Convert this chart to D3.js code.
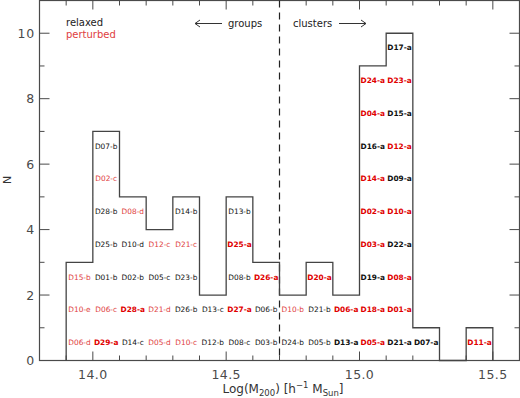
<!DOCTYPE html>
<html>
<head>
<meta charset="utf-8">
<script src="https://cdn.jsdelivr.net/npm/d3@7"></script>
<style>
  body { margin: 0; background: #fff; }
  svg { display: block; font-family: "DejaVu Sans", sans-serif; }
</style>
</head>
<body>
<svg id="chart" width="520" height="398"></svg>
<script>
// ---- data ----
const binStarts = [13.9, 14.0, 14.1, 14.2, 14.3, 14.4, 14.5, 14.6, 14.7, 14.8, 14.9, 15.0, 15.1, 15.2, 15.3, 15.4];
const binWidth = 0.1;
const counts = [3, 7, 5, 4, 5, 2, 5, 3, 2, 3, 2, 9, 10, 1, 0, 1];
// labels per bin, from bottom to top
const binLabels = [
  ["D06-d", "D10-e", "D15-b"],
  ["D29-a", "D06-c", "D01-b", "D25-b", "D28-b", "D02-c", "D07-b"],
  ["D14-c", "D28-a", "D02-b", "D10-d", "D08-d"],
  ["D05-d", "D21-d", "D05-c", "D12-c"],
  ["D10-c", "D26-b", "D23-b", "D21-c", "D14-b"],
  ["D12-b", "D13-c"],
  ["D08-c", "D27-a", "D08-b", "D25-a", "D13-b"],
  ["D03-b", "D06-b", "D26-a"],
  ["D24-b", "D10-b"],
  ["D05-b", "D21-b", "D20-a"],
  ["D13-a", "D06-a"],
  ["D05-a", "D18-a", "D19-a", "D03-a", "D02-a", "D14-a", "D16-a", "D04-a", "D24-a"],
  ["D21-a", "D01-a", "D08-a", "D22-a", "D10-a", "D09-a", "D12-a", "D15-a", "D23-a", "D17-a"],
  ["D07-a"],
  [],
  ["D11-a"]
];
const perturbed = ["D15-b", "D10-e", "D06-d", "D29-a", "D06-c", "D02-c", "D28-a", "D08-d",
  "D05-d", "D21-d", "D12-c", "D10-c", "D21-c", "D27-a", "D25-a", "D26-a", "D10-b", "D20-a",
  "D06-a", "D05-a", "D18-a", "D03-a", "D02-a", "D14-a", "D04-a", "D24-a", "D01-a", "D08-a",
  "D10-a", "D12-a", "D23-a", "D11-a"];
const xTicks = [14.0, 14.5, 15.0, 15.5];
const yTicks = [0, 2, 4, 6, 8, 10];
const groupDivide = 14.7;

// ---- layout ----
const svg = d3.select("#chart");
const L = 39.5, R = 519.5, T = 0.5, B = 360.5;
const x = d3.scaleLinear().domain([13.8, 15.6]).range([L, R]);
const y = d3.scaleLinear().domain([0, 11]).range([B, T]);
const axisColor = "#4a4a4a";

// frame
svg.append("rect").attr("x", L).attr("y", T).attr("width", R - L).attr("height", B - T)
  .attr("fill", "none").attr("stroke", axisColor).attr("stroke-width", 1.2);

// ticks
const xMinor = d3.range(13.8, 15.61, 0.1).map(v => +v.toFixed(2));
const yMinor = d3.range(0, 12, 1);
const g = svg.append("g").attr("stroke", axisColor).attr("stroke-width", 1);
xMinor.forEach(v => {
  const major = xTicks.some(t => Math.abs(t - v) < 1e-6);
  const len = major ? 9 : 5;
  g.append("line").attr("x1", x(v)).attr("x2", x(v)).attr("y1", B).attr("y2", B - len);
  g.append("line").attr("x1", x(v)).attr("x2", x(v)).attr("y1", T).attr("y2", T + len);
});
yMinor.forEach(v => {
  const major = v % 2 === 0;
  const len = major ? 10 : 5;
  g.append("line").attr("y1", y(v)).attr("y2", y(v)).attr("x1", L).attr("x2", L + len);
  g.append("line").attr("y1", y(v)).attr("y2", y(v)).attr("x1", R).attr("x2", R - len);
});

// tick labels
svg.append("g").selectAll("text").data(xTicks).join("text")
  .attr("x", d => x(d)).attr("y", 379).attr("text-anchor", "middle")
  .attr("font-size", 12.5).attr("fill", axisColor).attr("letter-spacing", 0.4)
  .text(d => d3.format(".1f")(d));
svg.append("g").selectAll("text").data(yTicks).join("text")
  .attr("x", 35).attr("y", d => y(d) + 4.5).attr("text-anchor", "end")
  .attr("font-size", 12.5).attr("fill", axisColor).attr("letter-spacing", 0.8)
  .text(d => d);

// axis titles
const xt = svg.append("text").attr("x", 283).attr("y", 393).attr("text-anchor", "middle")
  .attr("font-size", 12).attr("fill", "#333");
xt.append("tspan").text("Log(M");
xt.append("tspan").attr("font-size", 8.5).attr("dy", 3).text("200");
xt.append("tspan").attr("dy", -3).text(")  [h");
xt.append("tspan").attr("font-size", 8.5).attr("dy", -5).text("−1");
xt.append("tspan").attr("dy", 5).text("  M");
xt.append("tspan").attr("font-size", 8.5).attr("dy", 3).text("Sun");
xt.append("tspan").attr("dy", -3).text("]");
svg.append("text").attr("transform", "translate(11,180) rotate(-90)").attr("text-anchor", "middle")
  .attr("font-size", 11).attr("fill", "#333").text("N");

// dashed divider
svg.append("line").attr("x1", x(groupDivide)).attr("x2", x(groupDivide))
  .attr("y1", T).attr("y2", B).attr("stroke", "#222").attr("stroke-width", 1.2)
  .attr("stroke-dasharray", "7,5");

// histogram outline
const pts = [[binStarts[0], 0]];
binStarts.forEach((b, i) => {
  pts.push([b, counts[i]]);
  pts.push([b + binWidth, counts[i]]);
});
pts.push([binStarts[binStarts.length - 1] + binWidth, 0]);
svg.append("path").attr("d", d3.line().x(d => x(d[0])).y(d => y(d[1]))(pts))
  .attr("fill", "none").attr("stroke", "#444").attr("stroke-width", 1.3);

// labels inside bins
const labelData = [];
binLabels.forEach((arr, i) => arr.forEach((name, j) => labelData.push({
  name, cx: binStarts[i] + binWidth / 2, row: j
})));
svg.append("g").selectAll("text").data(labelData).join("text")
  .attr("x", d => x(d.cx)).attr("y", d => y(d.row + 0.55))
  .attr("dominant-baseline", "central").attr("text-anchor", "middle")
  .attr("font-size", 7.4)
  .attr("font-weight", d => d.name.endsWith("-a") ? "bold" : "normal")
  .attr("fill", d => perturbed.includes(d.name)
    ? (d.name.endsWith("-a") ? "#e00000" : "#e04040")
    : "#111")
  .text(d => d.name);

// legend
svg.append("text").attr("x", 66).attr("y", 26).attr("font-size", 10).attr("fill", "#222").text("relaxed");
svg.append("text").attr("x", 66).attr("y", 38).attr("font-size", 10).attr("fill", "#e04040").text("perturbed");

// group / cluster annotations
const arrowColor = "#333";
svg.append("line").attr("x1", 195).attr("x2", 222).attr("y1", 23.5).attr("y2", 23.5).attr("stroke", arrowColor);
svg.append("path").attr("d", "M200,20 L195,23.5 L200,27").attr("fill", "none").attr("stroke", arrowColor);
svg.append("text").attr("x", 228).attr("y", 27).attr("font-size", 10).attr("fill", "#222").text("groups");
svg.append("text").attr("x", 293).attr("y", 27).attr("font-size", 10).attr("fill", "#222").text("clusters");
svg.append("line").attr("x1", 339).attr("x2", 366).attr("y1", 23.5).attr("y2", 23.5).attr("stroke", arrowColor);
svg.append("path").attr("d", "M361,20 L366,23.5 L361,27").attr("fill", "none").attr("stroke", arrowColor);
</script>
</body>
</html>
